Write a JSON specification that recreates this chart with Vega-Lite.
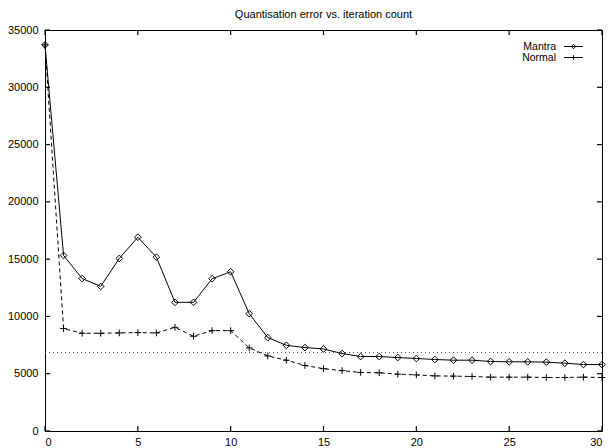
{
  "$schema": "https://vega.github.io/schema/vega-lite/v6.json",
  "width": 557,
  "height": 401,
  "autosize": {"type": "none"},
  "padding": {"left": 45, "top": 30, "right": 6, "bottom": 17},
  "background": "white",
  "title": {"text": "Quantisation error vs. iteration count", "fontSize": 11, "font": "Liberation Sans", "fontWeight": "normal", "offset": 4, "color": "#000"},
  "config": {
    "font": "Liberation Sans",
    "view": {"stroke": "#000", "strokeWidth": 1},
    "axis": {"grid": false, "domain": false, "ticks": false, "tickSize": 0, "labelFont": "Liberation Sans", "labelFontSize": 11, "labelColor": "#000", "title": null, "format": "d"}
  },
  "resolve": {"scale": {"shape": "independent"}},
  "datasets": {
    "d": [
      {"iter":0,"series":"Mantra","error":33700},{"iter":1,"series":"Mantra","error":15320},{"iter":2,"series":"Mantra","error":13310},{"iter":3,"series":"Mantra","error":12620},{"iter":4,"series":"Mantra","error":15060},{"iter":5,"series":"Mantra","error":16910},{"iter":6,"series":"Mantra","error":15170},{"iter":7,"series":"Mantra","error":11230},{"iter":8,"series":"Mantra","error":11230},{"iter":9,"series":"Mantra","error":13290},{"iter":10,"series":"Mantra","error":13900},{"iter":11,"series":"Mantra","error":10240},{"iter":12,"series":"Mantra","error":8150},{"iter":13,"series":"Mantra","error":7480},{"iter":14,"series":"Mantra","error":7280},{"iter":15,"series":"Mantra","error":7160},{"iter":16,"series":"Mantra","error":6760},{"iter":17,"series":"Mantra","error":6500},{"iter":18,"series":"Mantra","error":6500},{"iter":19,"series":"Mantra","error":6410},{"iter":20,"series":"Mantra","error":6330},{"iter":21,"series":"Mantra","error":6240},{"iter":22,"series":"Mantra","error":6180},{"iter":23,"series":"Mantra","error":6180},{"iter":24,"series":"Mantra","error":6070},{"iter":25,"series":"Mantra","error":6040},{"iter":26,"series":"Mantra","error":6040},{"iter":27,"series":"Mantra","error":6010},{"iter":28,"series":"Mantra","error":5920},{"iter":29,"series":"Mantra","error":5800},{"iter":30,"series":"Mantra","error":5800},
      {"iter":0,"series":"Normal","error":33700},{"iter":1,"series":"Normal","error":8940},{"iter":2,"series":"Normal","error":8530},{"iter":3,"series":"Normal","error":8530},{"iter":4,"series":"Normal","error":8560},{"iter":5,"series":"Normal","error":8590},{"iter":6,"series":"Normal","error":8560},{"iter":7,"series":"Normal","error":9050},{"iter":8,"series":"Normal","error":8270},{"iter":9,"series":"Normal","error":8760},{"iter":10,"series":"Normal","error":8760},{"iter":11,"series":"Normal","error":7250},{"iter":12,"series":"Normal","error":6550},{"iter":13,"series":"Normal","error":6180},{"iter":14,"series":"Normal","error":5720},{"iter":15,"series":"Normal","error":5440},{"iter":16,"series":"Normal","error":5270},{"iter":17,"series":"Normal","error":5110},{"iter":18,"series":"Normal","error":5080},{"iter":19,"series":"Normal","error":4960},{"iter":20,"series":"Normal","error":4900},{"iter":21,"series":"Normal","error":4810},{"iter":22,"series":"Normal","error":4790},{"iter":23,"series":"Normal","error":4760},{"iter":24,"series":"Normal","error":4700},{"iter":25,"series":"Normal","error":4700},{"iter":26,"series":"Normal","error":4700},{"iter":27,"series":"Normal","error":4670},{"iter":28,"series":"Normal","error":4670},{"iter":29,"series":"Normal","error":4700},{"iter":30,"series":"Normal","error":4670}
    ],
    "ref": [{"level": 6850}],
    "xt": [{"t":0},{"t":5},{"t":10},{"t":15},{"t":20},{"t":25},{"t":30}],
    "yt": [{"v":0},{"v":5000},{"v":10000},{"v":15000},{"v":20000},{"v":25000},{"v":30000},{"v":35000}]
  },
  "layer": [
    {
      "data": {"name": "ref"},
      "mark": {"type": "rule", "color": "#555", "strokeWidth": 1, "strokeDash": [1, 3]},
      "encoding": {
        "y": {"field": "level", "type": "quantitative", "scale": {"domain": [0, 35000], "nice": false}, "axis": {"values": [0,5000,10000,15000,20000,25000,30000,35000], "orient": "left", "labelPadding": 7}}
      }
    },
    {
      "data": {"name": "xt"},
      "mark": {"type": "rule", "color": "#000", "strokeWidth": 1.2},
      "encoding": {"x": {"field": "t", "type": "quantitative"}, "y": {"datum": 0, "type": "quantitative"}, "y2": {"datum": 436}}
    },
    {
      "data": {"name": "xt"},
      "mark": {"type": "rule", "color": "#000", "strokeWidth": 1.2},
      "encoding": {"x": {"field": "t", "type": "quantitative"}, "y": {"datum": 35000, "type": "quantitative"}, "y2": {"datum": 34564}}
    },
    {
      "data": {"name": "yt"},
      "mark": {"type": "rule", "color": "#000", "strokeWidth": 1.2},
      "encoding": {"y": {"field": "v", "type": "quantitative"}, "x": {"datum": 0, "type": "quantitative"}, "x2": {"datum": 0.27}}
    },
    {
      "data": {"name": "yt"},
      "mark": {"type": "rule", "color": "#000", "strokeWidth": 1.2},
      "encoding": {"y": {"field": "v", "type": "quantitative"}, "x": {"datum": 30, "type": "quantitative"}, "x2": {"datum": 29.73}}
    },
    {
      "data": {"name": "d"},
      "transform": [{"filter": "datum.series === 'Mantra'"}],
      "mark": {"type": "line", "color": "#000", "strokeWidth": 1},
      "encoding": {
        "x": {"field": "iter", "type": "quantitative", "scale": {"domain": [0, 30], "nice": false}, "axis": {"values": [0,5,10,15,20,25,30], "orient": "bottom", "labelPadding": 5}},
        "y": {"field": "error", "type": "quantitative"}
      }
    },
    {
      "data": {"name": "d"},
      "transform": [{"filter": "datum.series === 'Normal'"}],
      "mark": {"type": "line", "color": "#000", "strokeWidth": 1, "strokeDash": [4, 3]},
      "encoding": {
        "x": {"field": "iter", "type": "quantitative"},
        "y": {"field": "error", "type": "quantitative"}
      }
    },
    {
      "data": {"name": "d"},
      "mark": {"type": "point", "color": "#000", "filled": false, "strokeWidth": 1, "size": 45, "opacity": 1},
      "encoding": {
        "x": {"field": "iter", "type": "quantitative"},
        "y": {"field": "error", "type": "quantitative"},
        "shape": {"field": "series", "type": "nominal", "scale": {"domain": ["Mantra", "Normal"], "range": ["diamond", "M-1,0H1M0,-1V1"]}, "legend": null}
      }
    },
    {
      "data": {"name": "d"},
      "transform": [{"filter": "datum.iter < 0"}],
      "mark": {"type": "point", "color": "#000", "filled": false, "strokeWidth": 1, "opacity": 1},
      "encoding": {
        "x": {"field": "iter", "type": "quantitative"},
        "y": {"field": "error", "type": "quantitative"},
        "shape": {"field": "series", "type": "nominal", "scale": {"domain": ["Mantra", "Normal"], "range": ["M-1.9,0H1.9M-0.45,0L0,-0.45L0.45,0L0,0.45Z", "M-1.9,0H1.9M0,-0.45V0.45"]},
          "legend": {"title": null, "orient": "none", "legendX": 473, "legendY": 11, "labelFontSize": 10.5, "labelFont": "Liberation Sans", "labelColor": "#000", "rowPadding": -1, "symbolStrokeColor": "#000", "symbolStrokeWidth": 1, "symbolSize": 100, "symbolOpacity": 1, "symbolOffset": 50, "labelAlign": "right", "labelOffset": -23,
            "encode": {"symbols": {"update": {"strokeDash": {"signal": "datum.value === 'Normal' ? [3, 2] : [1, 0]"}}}}}
        }
      }
    }
  ]
}
